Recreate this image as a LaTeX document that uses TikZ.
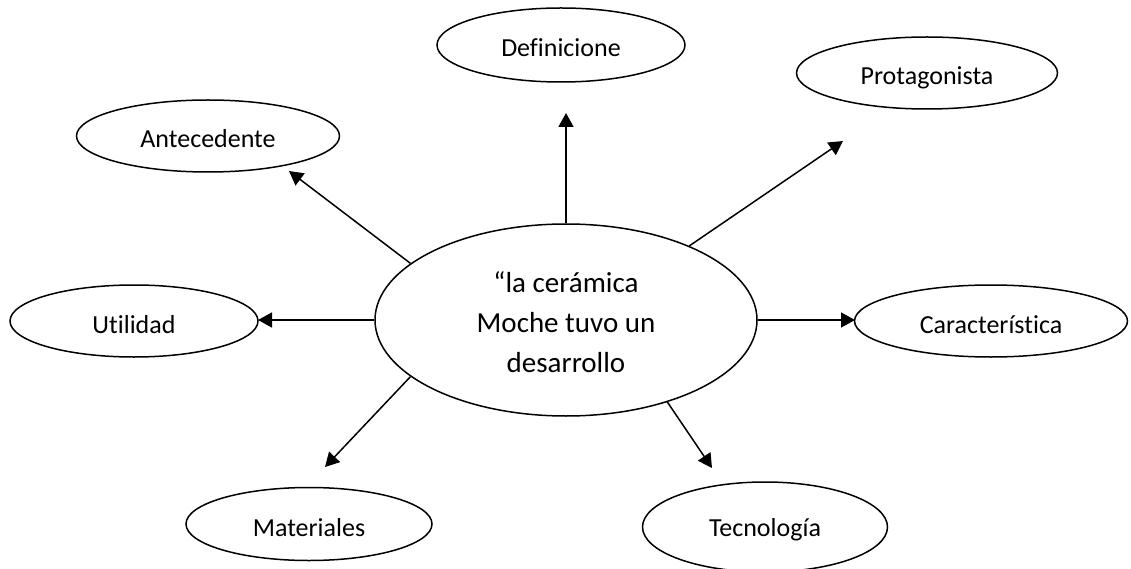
\documentclass[tikz,border=0pt]{standalone}
\usepackage{fontspec}
\setmainfont{Carlito}[Ligatures=NoCommon]
\usetikzlibrary{shapes.geometric,arrows.meta}
\begin{document}
\begin{tikzpicture}[x=1pt,y=-1pt,
  bub/.style={draw, ellipse, line width=1.5pt, inner sep=0pt, text height=24pt, text depth=0pt, font=\fontsize{26}{30}\selectfont},
  arr/.style={line width=1.5pt, -{Triangle[length=14pt,width=15pt]}}]
\useasboundingbox (0,0) rectangle (1131,569);
\node[draw, ellipse, line width=1.5pt, inner sep=0pt, minimum width=382pt, minimum height=192pt, font=\fontsize{29}{40}\selectfont] (c) at (566,320) {\raisebox{-4pt}[\height][\depth]{\begin{tabular}{@{}c@{}}“la cerámica\\Moche tuvo un\\desarrollo\end{tabular}}};
\node[bub, minimum width=248pt, minimum height=74pt] (def) at (561,45) {Definicione};
\node[bub, minimum width=261pt, minimum height=72pt] (pro) at (927,73) {Protagonista};
\node[bub, minimum width=263pt, minimum height=72pt] (ant) at (208,136) {Antecedente};
\node[bub, minimum width=248pt, minimum height=72pt] (uti) at (134,321) {Utilidad};
\node[bub, minimum width=273pt, minimum height=72pt] (car) at (991,321) {Característica};
\node[bub, minimum width=246pt, minimum height=73pt] (mat) at (309,524) {Materiales};
\node[bub, minimum width=245pt, minimum height=90pt, text height=18pt] (tec) at (765,527) {Tecnología};
\coordinate (tdef) at (566,113);
\coordinate (tpro) at (843,141);
\coordinate (tant) at (289,171);
\coordinate (tuti) at (258,320);
\coordinate (tcar) at (855,320);
\coordinate (tmat) at (325,467);
\coordinate (ttec) at (712,468);
\draw[arr] (c.north) -- (tdef);
\draw[arr] (c.31) -- (tpro);
\draw[arr] (c.160) -- (tant);
\draw[arr] (c.west) -- (tuti);
\draw[arr] (c.east) -- (tcar);
\draw[arr] (c.200) -- (tmat);
\draw[arr] (c.321) -- (ttec);
\end{tikzpicture}
\end{document}
